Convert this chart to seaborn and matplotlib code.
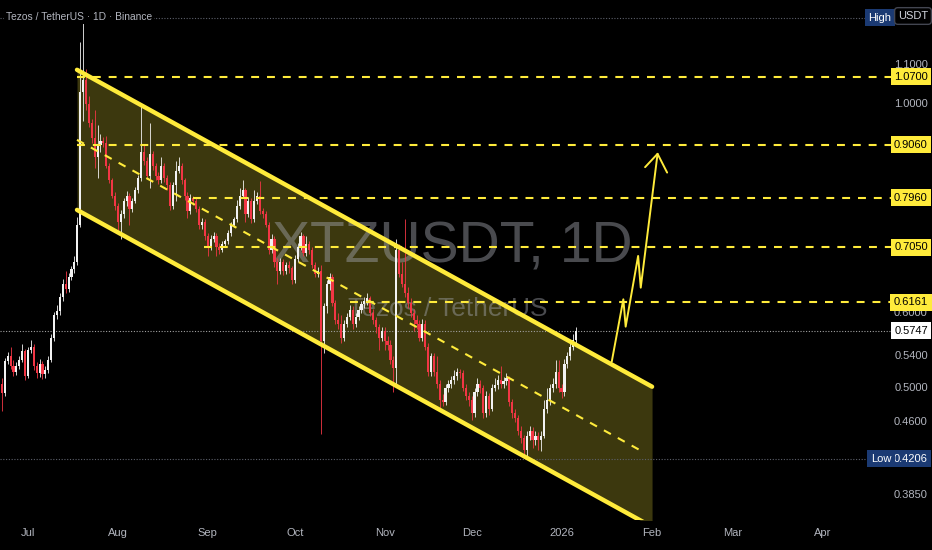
import numpy as np
import pandas as pd
import seaborn as sns
import matplotlib
matplotlib.use('Agg')
import matplotlib.pyplot as plt
import matplotlib.dates as mdates
import matplotlib.transforms as mtransforms
from matplotlib.ticker import FuncFormatter, NullLocator
from matplotlib import font_manager

# 日線 K 棒資料 (XTZ/USDT, 2025-06-22 起)
start_date = '2025-06-22'
first_open = 0.505
closes = [0.494, 0.534, 0.540, 0.528, 0.520, 0.528, 0.535, 0.547, 0.515, 0.548,
          0.552, 0.527, 0.518, 0.530, 0.517, 0.522, 0.535, 0.565, 0.598, 0.603,
          0.625, 0.645, 0.637, 0.655, 0.668, 0.680, 0.745, 1.030, 1.060, 1.000,
          0.955, 0.920, 0.880, 0.905, 0.915, 0.910, 0.860, 0.830, 0.800, 0.780,
          0.750, 0.765, 0.790, 0.800, 0.775, 0.790, 0.810, 0.835, 0.890, 0.870,
          0.840, 0.885, 0.860, 0.840, 0.830, 0.860, 0.835, 0.820, 0.780, 0.820,
          0.850, 0.860, 0.830, 0.800, 0.770, 0.795, 0.790, 0.775, 0.745, 0.750,
          0.725, 0.705, 0.720, 0.725, 0.705, 0.700, 0.710, 0.715, 0.730, 0.745,
          0.755, 0.780, 0.800, 0.810, 0.765, 0.790, 0.755, 0.790, 0.800, 0.770,
          0.765, 0.745, 0.700, 0.720, 0.680, 0.665, 0.680, 0.665, 0.675, 0.670,
          0.650, 0.685, 0.705, 0.725, 0.695, 0.710, 0.700, 0.675, 0.660, 0.665,
          0.560, 0.610, 0.645, 0.655, 0.615, 0.590, 0.585, 0.565, 0.585, 0.595,
          0.605, 0.585, 0.595, 0.605, 0.613, 0.618, 0.622, 0.600, 0.590, 0.580,
          0.565, 0.575, 0.560, 0.555, 0.535, 0.525, 0.700, 0.660, 0.645, 0.630,
          0.615, 0.600, 0.590, 0.585, 0.565, 0.585, 0.553, 0.520, 0.540, 0.520,
          0.505, 0.485, 0.483, 0.500, 0.505, 0.510, 0.515, 0.520, 0.518, 0.500,
          0.490, 0.485, 0.470, 0.495, 0.505, 0.500, 0.470, 0.490, 0.475, 0.500,
          0.503, 0.510, 0.505, 0.508, 0.512, 0.483, 0.470, 0.465, 0.450, 0.442,
          0.430, 0.445, 0.450, 0.440, 0.445, 0.440, 0.445, 0.475, 0.485, 0.500,
          0.505, 0.520, 0.500, 0.495, 0.530, 0.540, 0.553, 0.562, 0.5747]
highs = [0.512, 0.538, 0.546, 0.552, 0.535, 0.532, 0.540, 0.556, 0.550, 0.553,
         0.562, 0.556, 0.532, 0.536, 0.534, 0.528, 0.540, 0.570, 0.602, 0.612,
         0.630, 0.652, 0.665, 0.662, 0.674, 0.690, 0.760, 1.165, 1.235, 1.090,
         1.020, 0.965, 0.985, 0.950, 0.930, 0.922, 0.925, 0.866, 0.836, 0.806,
         0.785, 0.772, 0.796, 0.808, 0.805, 0.796, 0.816, 0.842, 1.000, 0.905,
         0.878, 0.955, 0.892, 0.866, 0.848, 0.880, 0.866, 0.842, 0.826, 0.826,
         0.870, 0.880, 0.866, 0.836, 0.806, 0.802, 0.800, 0.796, 0.780, 0.758,
         0.756, 0.730, 0.726, 0.732, 0.730, 0.712, 0.716, 0.720, 0.735, 0.750,
         0.760, 0.792, 0.815, 0.830, 0.815, 0.798, 0.796, 0.810, 0.806, 0.828,
         0.776, 0.770, 0.750, 0.728, 0.725, 0.686, 0.686, 0.685, 0.680, 0.682,
         0.674, 0.692, 0.712, 0.732, 0.728, 0.725, 0.716, 0.705, 0.680, 0.672,
         0.675, 0.615, 0.650, 0.662, 0.660, 0.620, 0.600, 0.598, 0.590, 0.600,
         0.612, 0.610, 0.600, 0.610, 0.618, 0.625, 0.630, 0.626, 0.606, 0.595,
         0.585, 0.580, 0.580, 0.568, 0.562, 0.540, 0.720, 0.710, 0.680, 0.755,
         0.640, 0.622, 0.606, 0.598, 0.590, 0.592, 0.590, 0.558, 0.545, 0.545,
         0.540, 0.510, 0.492, 0.505, 0.510, 0.515, 0.522, 0.525, 0.524, 0.522,
         0.505, 0.495, 0.490, 0.500, 0.512, 0.510, 0.504, 0.496, 0.494, 0.505,
         0.512, 0.516, 0.527, 0.513, 0.518, 0.515, 0.487, 0.475, 0.468, 0.455,
         0.446, 0.450, 0.456, 0.454, 0.450, 0.449, 0.450, 0.485, 0.500, 0.505,
         0.512, 0.535, 0.535, 0.505, 0.536, 0.546, 0.558, 0.570, 0.580]
lows = [0.472, 0.490, 0.530, 0.524, 0.515, 0.516, 0.524, 0.532, 0.510, 0.512,
        0.544, 0.522, 0.512, 0.514, 0.511, 0.512, 0.518, 0.532, 0.560, 0.592,
        0.598, 0.618, 0.630, 0.632, 0.650, 0.662, 0.675, 0.740, 0.960, 0.985,
        0.945, 0.910, 0.855, 0.835, 0.890, 0.900, 0.855, 0.825, 0.795, 0.772,
        0.735, 0.720, 0.758, 0.780, 0.745, 0.768, 0.785, 0.805, 0.828, 0.862,
        0.832, 0.815, 0.852, 0.830, 0.822, 0.825, 0.826, 0.810, 0.772, 0.775,
        0.790, 0.845, 0.822, 0.792, 0.758, 0.765, 0.782, 0.768, 0.738, 0.738,
        0.718, 0.690, 0.700, 0.714, 0.690, 0.694, 0.696, 0.705, 0.710, 0.725,
        0.740, 0.750, 0.775, 0.795, 0.750, 0.760, 0.748, 0.750, 0.784, 0.765,
        0.758, 0.740, 0.694, 0.695, 0.672, 0.645, 0.660, 0.658, 0.660, 0.662,
        0.644, 0.646, 0.680, 0.700, 0.690, 0.690, 0.694, 0.670, 0.655, 0.655,
        0.447, 0.545, 0.600, 0.635, 0.610, 0.585, 0.578, 0.558, 0.560, 0.580,
        0.590, 0.578, 0.580, 0.590, 0.600, 0.608, 0.612, 0.596, 0.585, 0.572,
        0.548, 0.560, 0.548, 0.548, 0.530, 0.495, 0.505, 0.655, 0.640, 0.625,
        0.608, 0.594, 0.575, 0.578, 0.560, 0.560, 0.548, 0.515, 0.515, 0.515,
        0.500, 0.475, 0.478, 0.480, 0.495, 0.500, 0.505, 0.510, 0.512, 0.496,
        0.485, 0.478, 0.462, 0.466, 0.490, 0.494, 0.465, 0.466, 0.468, 0.472,
        0.496, 0.498, 0.500, 0.500, 0.503, 0.478, 0.465, 0.460, 0.446, 0.437,
        0.424, 0.4206, 0.440, 0.432, 0.435, 0.430, 0.428, 0.442, 0.470, 0.480,
        0.495, 0.500, 0.495, 0.488, 0.490, 0.525, 0.535, 0.548, 0.558]

# 水平阻力位 (起點為距 start_date 的天數)
levels = [1.07, 0.906, 0.796, 0.705, 0.6161]
level_labels = ['1.0700', '0.9060', '0.7960', '0.7050', '0.6161']
level_start = [25.9, 25.9, 65.9, 69.7, 120.0]

# 價格刻度
scale_ticks = [1.1, 1.0, 0.6, 0.54, 0.5, 0.46, 0.385]
scale_labels = ['1.1000', '1.0000', '0.6000', '0.5400', '0.5000', '0.4600', '0.3850']
last_price = 0.5747
low_price = 0.4206
high_price = 1.235

# 下降通道
channel_x = [25.9, 224.2]
channel_upper = [1.0877, 0.5014]
channel_lower = [0.7724, 0.356]
mid_x = [25.9, 221.8]
mid_y = [0.9166, 0.4264]

# 突破箭頭
arrow_x = [210.3, 214.3, 215.1, 219.4, 220.3, 226.1]
arrow_y = [0.533, 0.6208, 0.5806, 0.6902, 0.6387, 0.8858]
head_x = [221.8, 226.1, 229.4]
head_y = [0.8574, 0.8858, 0.8461]

YELLOW = '#ffeb3b'
UP = '#f2f2f2'
DOWN = '#f23645'
GREY = '#b2b5be'

sns.set_theme(style='dark', rc={'axes.facecolor': 'black', 'figure.facecolor': 'black'})
installed = {f.name for f in font_manager.fontManager.ttflist}
narrow = 'Liberation Sans Narrow' if 'Liberation Sans Narrow' in installed else 'Liberation Sans'
plt.rcParams['font.family'] = [narrow, 'DejaVu Sans']
shrink = 1.0 if narrow == 'Liberation Sans Narrow' else 0.82

fig = plt.figure(figsize=(9.32, 5.5), dpi=100)
fig.patch.set_facecolor('black')
ax = fig.add_axes([0, 30 / 550, 862 / 932, 520 / 550])
ax.set_facecolor('black')
ax.set_yscale('log')

base = mdates.date2num(pd.Timestamp(start_date))
n = len(closes)
x = base + np.arange(n)
c = np.array(closes)
o = np.r_[first_open, c[:-1]]
h = np.maximum(np.array(highs), np.maximum(o, c))
l = np.minimum(np.array(lows), np.minimum(o, c))
up = c >= o
colors = np.where(up, UP, DOWN)

# K 棒
ax.vlines(x, l, h, colors=colors, linewidth=0.6, zorder=3)
body_bottom = np.minimum(o, c)
body_height = np.maximum(np.abs(c - o), body_bottom * 0.004)
ax.bar(x, body_height, bottom=body_bottom, width=0.75, color=colors, linewidth=0, zorder=3.1)

# 通道填色與邊線
cx = [base + v for v in channel_x]
ax.fill_between(cx, channel_lower, channel_upper, color=YELLOW, alpha=0.24, linewidth=0, zorder=1)
sns.lineplot(x=cx, y=channel_upper, ax=ax, color=YELLOW, linewidth=3.2, sort=False,
             estimator=None, legend=False, zorder=4)
sns.lineplot(x=cx, y=channel_lower, ax=ax, color=YELLOW, linewidth=3.2, sort=False,
             estimator=None, legend=False, zorder=4)
ax.plot([base + v for v in mid_x], mid_y, color=YELLOW, linewidth=1.5,
        linestyle=(0, (3.8, 3.8)), zorder=4)

# 箭頭
sns.lineplot(x=[base + v for v in arrow_x], y=arrow_y, ax=ax, color=YELLOW, linewidth=1.4,
             sort=False, estimator=None, legend=False, zorder=4)
sns.lineplot(x=[base + v for v in head_x], y=head_y, ax=ax, color=YELLOW, linewidth=1.4,
             sort=False, estimator=None, legend=False, zorder=4)

x_left = base - 0.655
x_right = base + 296.6
ax.set_xlim(x_left, x_right)
ax.set_ylim(0.362, 1.29)

# 水平虛線
line_end = x_right + 31 / 2.9
for v, s in zip(levels, level_start):
    ax.plot([base + s, line_end], [v, v], color=YELLOW, linewidth=1.5,
            linestyle=(0, (3.8, 3.8)), clip_on=False, zorder=4)

label_end = x_right + 9 / 2.9
ax.plot([x_left, line_end], [last_price, last_price], color='#a0a0a0', linewidth=0.8,
        linestyle=(0, (1, 1.5)), clip_on=False, zorder=2.5)
ax.plot([x_left, label_end], [low_price, low_price], color='#5d606b', linewidth=0.8,
        linestyle=(0, (1, 1.5)), clip_on=False, zorder=2.5)
ax.plot([x_left, label_end], [high_price, high_price], color='#5d606b', linewidth=0.8,
        linestyle=(0, (1, 1.5)), clip_on=False, zorder=2.5)

# 浮水印
ax.text(452 / 862, 1 - 263 / 520, 'XTZUSDT, 1D', transform=ax.transAxes, ha='center',
        va='baseline', fontsize=50 * shrink, color='#a3a6af', alpha=0.45, zorder=1.5)
ax.text(448 / 862, 1 - 316 / 520, 'Tezos / TetherUS', transform=ax.transAxes, ha='center',
        va='baseline', fontsize=23 * shrink, color='#a3a6af', alpha=0.45, zorder=1.5)

# 右側價格軸
blend = mtransforms.blended_transform_factory(ax.transAxes, ax.transData)
lab_x = 911 / 862
for v, t in zip(scale_ticks, scale_labels):
    ax.text(lab_x, v, t, transform=blend, ha='center', va='center', fontsize=8,
            color=GREY, clip_on=False, zorder=5)
for v, t in zip(levels, level_labels):
    ax.text(lab_x, v, t, transform=blend, ha='center', va='center', fontsize=8,
            color='black', clip_on=False, zorder=6,
            bbox=dict(boxstyle='square,pad=0.32', fc=YELLOW, ec='none'))
ax.text(lab_x, last_price, '0.5747', transform=blend, ha='center', va='center', fontsize=8,
        color='black', clip_on=False, zorder=6,
        bbox=dict(boxstyle='square,pad=0.32', fc='white', ec='none'))
ax.text(lab_x, low_price, '0.4206', transform=blend, ha='center', va='center', fontsize=8,
        color='white', clip_on=False, zorder=6,
        bbox=dict(boxstyle='square,pad=0.32', fc='#1b3a73', ec='none'))
ax.text(881 / 862, low_price, 'Low', transform=blend, ha='center', va='center', fontsize=8,
        color='white', clip_on=False, zorder=6,
        bbox=dict(boxstyle='square,pad=0.32', fc='#1b3a73', ec='none'))
ax.text(880 / 862, high_price, 'High', transform=blend, ha='center', va='center', fontsize=8,
        color='white', clip_on=False, zorder=6,
        bbox=dict(boxstyle='square,pad=0.32', fc='#1b3a73', ec='none'))
fig.text(913 / 932, 1 - 16 / 550, 'USDT', ha='center', va='center', fontsize=8, color='#d1d4dc',
         bbox=dict(boxstyle='round,pad=0.3', fc='black', ec='#434651', lw=1))

# 標題
fig.text(6 / 932, 1 - 17 / 550, 'Tezos / TetherUS · 1D · Binance', ha='left', va='center',
         fontsize=7.4, color=GREY, bbox=dict(boxstyle='square,pad=0.15', fc='black', ec='none'))

# 日期軸
ax.xaxis.set_major_locator(mdates.MonthLocator())
ax.xaxis.set_major_formatter(FuncFormatter(
    lambda v, p: mdates.num2date(v).strftime('%Y') if mdates.num2date(v).month == 1
    else mdates.num2date(v).strftime('%b')))
ax.tick_params(axis='x', length=0, colors=GREY, labelsize=8, pad=6)
ax.yaxis.set_major_locator(NullLocator())
ax.yaxis.set_minor_locator(NullLocator())
ax.tick_params(axis='y', which='both', left=False, labelleft=False)
for sp in ax.spines.values():
    sp.set_visible(False)
ax.grid(False)

plt.savefig('out.png', dpi=100, facecolor='black')
plt.close()
